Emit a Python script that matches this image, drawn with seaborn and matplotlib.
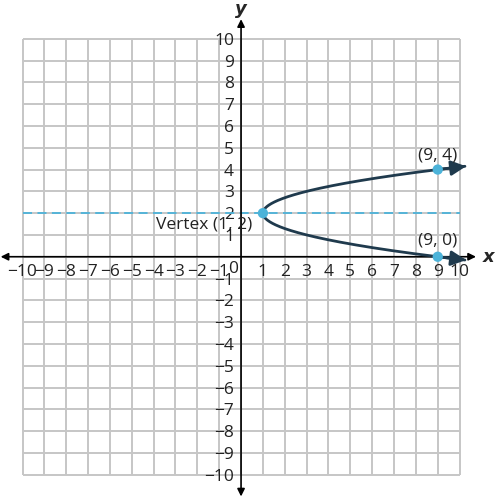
import numpy as np
import pandas as pd
import matplotlib
matplotlib.use("Agg")
import matplotlib.pyplot as plt
import seaborn as sns

# parabola x = a*(y - k)^2 + h
a = 2
h = 1
k = 2
y_range = [2 - 2.15, 2 + 2.15]   # curve runs out to x = 10

# labelled points
point_x = [1, 9, 9]
point_y = [2, 4, 0]
point_labels = ["Vertex (1, 2)", "(9, 4)", "(9, 0)"]

# axis of symmetry
sym_y = 2

ticks = [t for t in range(-10, 11) if t != 0]
tick_labels = [str(t).replace("-", "\u2212") for t in ticks]

sns.set_style("white")
plt.rcParams["font.family"] = ["Open Sans", "DejaVu Sans"]

curve_color = "#1f3a4d"
point_color = "#4cb3d9"
grid_color = "#c6c6c6"
text_color = "#222222"

fig = plt.figure(figsize=(4.95, 4.98), dpi=100)
ax = fig.add_axes([0, 0, 1, 1])
ax.set_xlim(-11.03, 11.62)
ax.set_ylim(-11.07, 11.78)

# grid limited to the -10..10 box
grid = np.arange(-10, 11)
ax.vlines(grid, -10, 10, color=grid_color, lw=1.4, zorder=0)
ax.hlines(grid, -10, 10, color=grid_color, lw=1.4, zorder=0)

# axes with arrows
for s in ax.spines.values():
    s.set_visible(False)
ax.spines["bottom"].set_position(("data", 0))
ax.spines["left"].set_position(("data", 0))
ax.annotate("", xy=(10.75, 0), xytext=(-11.0, 0),
            arrowprops=dict(arrowstyle="<|-|>", color="black", lw=1.2,
                            mutation_scale=11, shrinkA=0, shrinkB=0), zorder=2)
ax.annotate("", xy=(0, 10.9), xytext=(0, -11.0),
            arrowprops=dict(arrowstyle="<|-|>", color="black", lw=1.2,
                            mutation_scale=11, shrinkA=0, shrinkB=0), zorder=2)

ax.set_xticks(ticks)
ax.set_xticklabels(tick_labels)
ax.set_yticks(ticks)
ax.set_yticklabels(tick_labels)
ax.tick_params(axis="both", direction="inout", length=8, width=1, color="black",
               labelsize=12.5, labelcolor=text_color)
ax.tick_params(axis="x", pad=1)
ax.tick_params(axis="y", pad=1)
ax.text(-0.35, -0.2, "0", ha="center", va="top", fontsize=12.5, color=text_color)

ax.text(11.05, 0, "x", ha="left", va="center", fontsize=13,
        fontweight="bold", style="italic", family=["DejaVu Sans"])
ax.text(0, 11.35, "y", ha="center", va="center", fontsize=13,
        fontweight="bold", style="italic", family=["DejaVu Sans"])

# axis of symmetry
ax.hlines(sym_y, -10, 10, color=point_color, lw=1.3, linestyles=(0, (5, 3)), zorder=1)

# parabola
ys = np.linspace(y_range[0], y_range[1], 300)
curve = pd.DataFrame({"x": a * (ys - k) ** 2 + h, "y": ys})
sns.lineplot(data=curve, x="x", y="y", sort=False, estimator=None, color=curve_color,
             lw=2, ax=ax, zorder=3)
for end, prev in [(-1, -10), (0, 9)]:
    ax.annotate("", xy=(curve["x"].iloc[end] + 0.05, curve["y"].iloc[end]),
                xytext=(curve["x"].iloc[prev], curve["y"].iloc[prev]),
                arrowprops=dict(arrowstyle="-|>,head_length=0.5,head_width=0.25",
                                color=curve_color, lw=2,
                                mutation_scale=18, shrinkA=0, shrinkB=0), zorder=3)

pts = pd.DataFrame({"x": point_x, "y": point_y})
sns.scatterplot(data=pts, x="x", y="y", color=point_color, s=55, edgecolor="none",
                ax=ax, zorder=4)

ax.text(0.5, 1.5, point_labels[0], ha="right", va="center", fontsize=12.5, color=text_color)
ax.text(9, 4.65, point_labels[1], ha="center", va="center", fontsize=12.5, color=text_color)
ax.text(9, 0.75, point_labels[2], ha="center", va="center", fontsize=12.5, color=text_color)

ax.set_xlabel("")
ax.set_ylabel("")
fig.savefig("out.png", dpi=100)
